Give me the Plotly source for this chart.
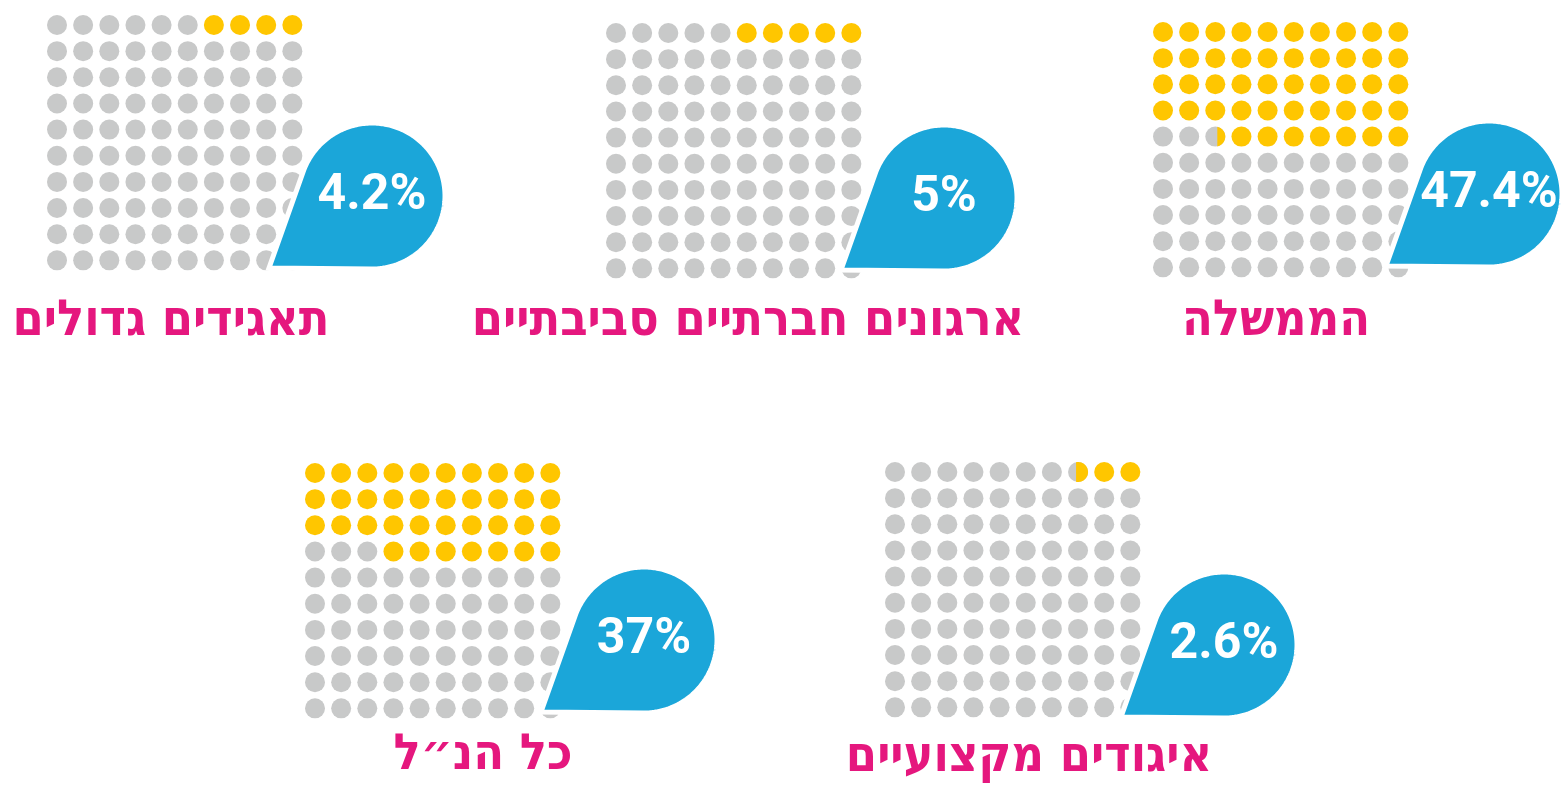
import numpy as np
import plotly.graph_objects as go

# ---- data ----
categories = ["הממשלה", "ארגונים חברתיים סביבתיים", "תאגידים גדולים", "איגודים מקצועיים", "כל הנ״ל"]
values = [47.4, 5.0, 4.2, 2.6, 37.0]
value_labels = ["47.4%", "5%", "4.2%", "2.6%", "37%"]

# ---- layout (pixel space) ----
grid_origin = [(1163, 32), (616, 33), (57, 25), (895, 472), (315, 473)]
drop_center = [(1489, 194), (944, 198), (372, 196), (1224, 645), (644, 640)]
label_pos = [(1276, 322), (748, 322), (171, 322), (1029, 758), (483, 756)]
SP = 26.15
DOT = 20
R = 73
TIP = (-103, 72)

YELLOW = "#FFC600"
GRAY = "#C8C9C9"
BLUE = "#1BA6D9"
PINK = "#E5177E"

fig = go.Figure()

for i, v in enumerate(values):
    ox, oy = grid_origin[i]
    full = int(np.floor(v))
    frac = v - full
    xs_y, ys_y, xs_g, ys_g = [], [], [], []
    partial = None
    for k in range(100):
        row = k // 10
        col = 9 - (k % 10)
        x = ox + col * SP
        y = oy + row * SP
        if k < full:
            xs_y.append(x); ys_y.append(y)
        else:
            xs_g.append(x); ys_g.append(y)
            if k == full and frac >= 0.3:
                partial = (x, y)
    fig.add_trace(go.Scatter(x=xs_g, y=ys_g, mode="markers",
                             marker=dict(size=DOT, color=GRAY, line=dict(width=0)),
                             hoverinfo="skip", showlegend=False))
    fig.add_trace(go.Scatter(x=xs_y, y=ys_y, mode="markers",
                             marker=dict(size=DOT, color=YELLOW, line=dict(width=0)),
                             hoverinfo="skip", showlegend=False))
    if partial is not None:
        px, py = partial
        rr = DOT / 2
        xc = px + rr - 2 * rr * frac  # chord position; yellow on the right
        a0 = np.arccos((xc - px) / rr)
        t = np.linspace(-a0, a0, 40)
        fig.add_trace(go.Scatter(x=px + rr * np.cos(t), y=py + rr * np.sin(t),
                                 mode="lines", fill="toself", fillcolor=YELLOW,
                                 line=dict(width=0, color=YELLOW, simplify=False),
                                 hoverinfo="skip", showlegend=False))

    # teardrop
    cx, cy = drop_center[i]
    tx, ty = cx + TIP[0], cy + TIP[1]
    dx, dy = tx - cx, ty - cy
    d = np.hypot(dx, dy)
    phi = np.arctan2(dy, dx)
    alpha = np.arccos(R / d)
    ang = np.linspace(phi + alpha, phi + 2 * np.pi - alpha, 200)
    px_ = list(cx + R * np.cos(ang)) + [tx, cx + R * np.cos(phi + alpha)]
    py_ = list(cy + R * np.sin(ang)) + [ty, cy + R * np.sin(phi + alpha)]
    fig.add_trace(go.Scatter(x=px_, y=py_, mode="lines", fill="toself",
                             fillcolor=BLUE, line=dict(color="white", width=5, simplify=False),
                             hoverinfo="skip", showlegend=False))
    fig.add_trace(go.Scatter(x=[cx], y=[cy], mode="text", text=[value_labels[i]],
                             textposition="middle center",
                             textfont=dict(family="Roboto, sans-serif",
                                           size=50, color="white", weight="bold"),
                             hoverinfo="skip", showlegend=False))
    lx, ly = label_pos[i]
    fig.add_trace(go.Scatter(x=[lx], y=[ly], mode="text", text=[categories[i]],
                             textposition="middle center",
                             textfont=dict(family="DejaVu Sans Condensed, DejaVu Sans, sans-serif",
                                           size=50, color=PINK, weight="bold"),
                             hoverinfo="skip", showlegend=False))

fig.update_layout(
    width=1564, height=786, margin=dict(l=0, r=0, t=0, b=0),
    paper_bgcolor="white", plot_bgcolor="white",
    xaxis=dict(range=[0, 1564], visible=False, fixedrange=True),
    yaxis=dict(range=[786, 0], visible=False, fixedrange=True),
    showlegend=False,
)

fig.write_html("out.html", config={"displayModeBar": False, "staticPlot": True},
               post_script="document.body.style.margin='0';document.body.style.overflow='hidden';")
